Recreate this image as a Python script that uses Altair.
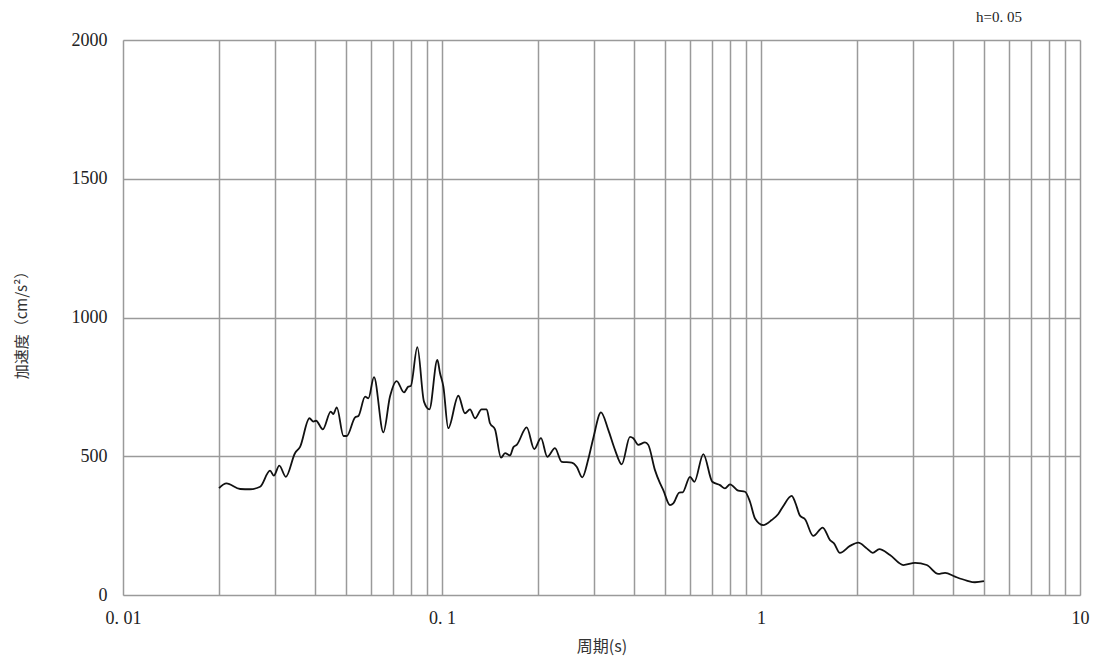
import altair as alt
import pandas as pd

# Period (s) and spectral acceleration (cm/s^2)
period = [0.020, 0.0211, 0.0233, 0.0250, 0.0269, 0.0289, 0.0297, 0.0309, 0.0324, 0.0346,
          0.0359, 0.0384, 0.0395, 0.0403, 0.0423, 0.0448, 0.0456, 0.0468, 0.0491, 0.0503,
          0.0534, 0.0547, 0.0574, 0.0588, 0.0612, 0.0655, 0.0687, 0.0721, 0.0760, 0.0784,
          0.0798, 0.0837, 0.0878, 0.0913, 0.0967, 0.0986, 0.1010, 0.1046, 0.1125, 0.1180,
          0.1224, 0.1269, 0.1331, 0.1380, 0.1414, 0.1466, 0.1531, 0.1576, 0.1634, 0.1673,
          0.1715, 0.1843, 0.1946, 0.2043, 0.2138, 0.2260, 0.2372, 0.2550, 0.2644, 0.2753,
          0.2874, 0.2980, 0.3151, 0.3321, 0.3486, 0.3659, 0.3884, 0.3978, 0.4124, 0.4328,
          0.4432, 0.4652, 0.4823, 0.4939, 0.5184, 0.5310, 0.5544, 0.5681, 0.5991, 0.6181,
          0.6595, 0.7036, 0.7439, 0.7711, 0.7995, 0.8487, 0.8909, 0.9236, 0.9577, 1.017,
          1.080, 1.133, 1.175, 1.248, 1.278, 1.325, 1.374, 1.458, 1.561, 1.646,
          1.694, 1.768, 1.901, 2.018, 2.145, 2.240, 2.349, 2.537, 2.794, 3.040,
          3.307, 3.596, 3.775, 4.058, 4.414, 4.686, 5.0]
accel = [385, 402, 382, 381, 390, 448, 430, 466, 426, 511,
         534, 637, 625, 628, 597, 661, 652, 676, 573, 573,
         640, 645, 715, 709, 785, 586, 715, 771, 730, 751,
         753, 893, 697, 669, 847, 799, 751, 601, 718, 655,
         669, 637, 669, 669, 619, 597, 495, 511, 503, 532,
         541, 604, 526, 565, 498, 529, 480, 477, 462, 424,
         489, 565, 658, 595, 523, 471, 570, 565, 541, 550,
         541, 450, 403, 378, 324, 330, 369, 370, 426, 408,
         508, 408, 396, 384, 399, 376, 372, 336, 276, 252,
         270, 292, 321, 357, 336, 286, 273, 213, 243, 198,
         186, 152, 177, 189, 168, 152, 165, 144, 108, 116,
         108, 76, 80, 66, 52, 46, 50]

x_grid = [0.01, 0.02, 0.03, 0.04, 0.05, 0.06, 0.07, 0.08, 0.09,
          0.1, 0.2, 0.3, 0.4, 0.5, 0.6, 0.7, 0.8, 0.9,
          1, 2, 3, 4, 5, 6, 7, 8, 9, 10]
y_ticks = [0, 500, 1000, 1500, 2000]
damping_label = ["h=0. 05"]

df = pd.DataFrame({"period": period, "accel": accel})
ann = pd.DataFrame({"label": damping_label})

FONT = "Liberation Serif, Noto Serif CJK JP, Noto Sans CJK JP"
CJK = "Noto Sans CJK JP"

label_expr = ("datum.value == 0.01 ? '0. 01' : datum.value == 0.1 ? '0. 1' : "
              "datum.value == 1 ? '1' : datum.value == 10 ? '10' : ''")

line = alt.Chart(df).mark_line(
    color="#111111", strokeWidth=1.8, interpolate="monotone"
).encode(
    x=alt.X("period:Q",
            scale=alt.Scale(type="log", domain=[0.01, 10], nice=False),
            axis=alt.Axis(values=x_grid, labelExpr=label_expr, title="周期(s)",
                          grid=True, gridColor="#9a9a9a", gridWidth=1.5,
                          domain=False, ticks=False, labelFlush=False,
                          labelPadding=14, labelFontSize=18, labelFont=FONT,
                          labelColor="#222222", labelAlign="center",
                          titleFont=CJK, titleFontSize=16, titleFontWeight="normal",
                          titleColor="#333333", titleY=51, titleBaseline="middle")),
    y=alt.Y("accel:Q",
            scale=alt.Scale(domain=[0, 2000], nice=False),
            axis=alt.Axis(values=y_ticks, format="d", title="加速度（cm/s²）",
                          grid=True, gridColor="#9a9a9a", gridWidth=1.5,
                          domain=False, ticks=False, labelFlush=False,
                          labelPadding=16, labelFontSize=18, labelFont=FONT,
                          labelColor="#222222",
                          titleFont=CJK, titleFontSize=15, titleFontWeight="normal",
                          titleColor="#333333", titleX=-102, titleY=281,
                          titleAngle=270, titleAlign="center", titleBaseline="middle")),
)

note = alt.Chart(ann).mark_text(
    align="right", baseline="alphabetic", fontSize=15, font=FONT, color="#222222"
).encode(
    text="label:N",
    x=alt.value(899),
    y=alt.value(-18),
)

chart = alt.layer(line, note).properties(
    width=957, height=555,
    autosize=alt.AutoSizeParams(type="none"),
    padding={"left": 115, "top": 32, "right": 12, "bottom": 68},
).configure_view(
    stroke="#111111", strokeWidth=2
).configure(background="white")

chart.save("out.html", embed_options={"renderer": "svg", "actions": False})
